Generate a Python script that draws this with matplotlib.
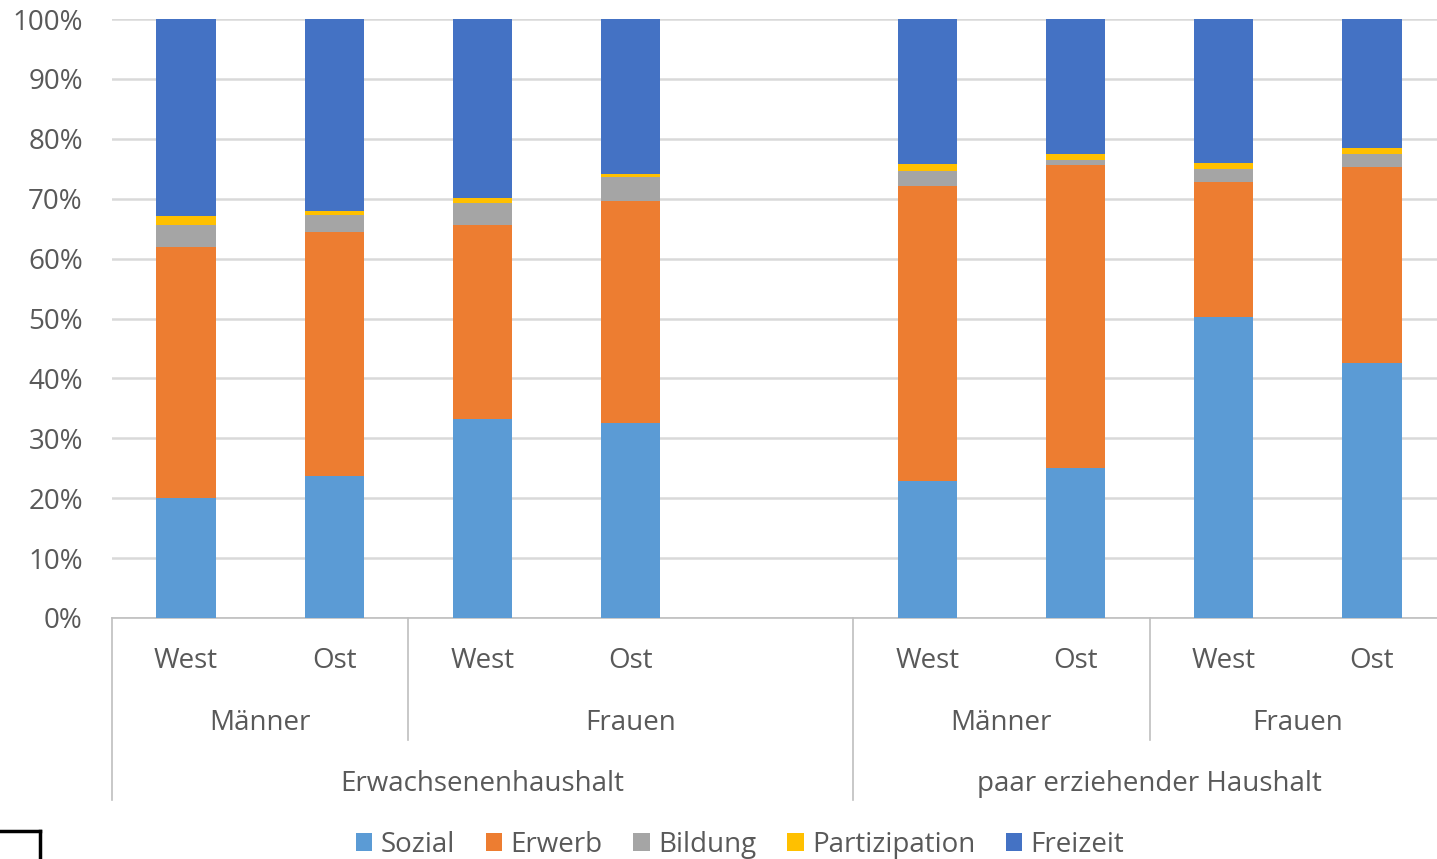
import numpy as np
import matplotlib.pyplot as plt
from matplotlib.lines import Line2D

# category slots (slot 4 is the empty gap between the two household groups)
positions = [0, 1, 2, 3, 5, 6, 7, 8]
region_labels = ['West', 'Ost', 'West', 'Ost', 'West', 'Ost', 'West', 'Ost']
gender_labels = ['Männer', 'Frauen', 'Männer', 'Frauen']
household_labels = ['Erwachsenenhaushalt', 'paar erziehender Haushalt']

series_names = ['Sozial', 'Erwerb', 'Bildung', 'Partizipation', 'Freizeit']
sozial = [20.0, 23.7, 33.2, 32.6, 22.9, 25.0, 50.2, 42.6]
erwerb = [42.0, 40.8, 32.4, 37.0, 49.3, 50.6, 22.6, 32.7]
bildung = [3.6, 2.8, 3.6, 4.0, 2.5, 0.8, 2.1, 2.2]
partizipation = [1.5, 0.6, 1.0, 0.5, 1.1, 1.1, 1.1, 0.9]
freizeit = [32.9, 32.1, 29.8, 25.9, 24.2, 22.5, 24.0, 21.6]

colors = ['#5B9BD5', '#ED7D31', '#A5A5A5', '#FFC000', '#4472C4']
text_col = '#595959'
line_col = '#BFBFBF'
fs = 20

plt.rcParams['font.family'] = ['Open Sans', 'DejaVu Sans']

W, H = 1437, 859
fig = plt.figure(figsize=(W / 100, H / 100), dpi=100)
x0, x1, y0, y1 = 112, 1446, 19, 618
ax = fig.add_axes([x0 / W, 1 - y1 / H, (x1 - x0) / W, (y1 - y0) / H])

data = [sozial, erwerb, bildung, partizipation, freizeit]
bottom = np.zeros(len(positions))
for name, vals, c in zip(series_names, data, colors):
    vals = np.array(vals)
    ax.bar(positions, vals, 0.4, bottom=bottom, color=c, label=name, zorder=3)
    bottom += vals

ax.set_xlim(-0.5, 8.5)
ax.set_ylim(0, 100)
ax.set_yticks(np.arange(0, 101, 10))
ax.set_yticklabels([f'{v}%' for v in range(0, 101, 10)])
ax.yaxis.grid(True, color='#D9D9D9', linewidth=1.8, zorder=0)
ax.tick_params(axis='y', length=0, labelsize=fs, labelcolor=text_col, pad=21)
ax.tick_params(axis='x', length=0, labelbottom=False)
for s in ['top', 'right', 'left']:
    ax.spines[s].set_visible(False)
ax.spines['bottom'].set_color(line_col)
ax.spines['bottom'].set_linewidth(1.2)

# multi-level category axis
trans = ax.get_xaxis_transform()
px = 1.0 / (y1 - y0)
row1 = -(661 - y1) * px
row2 = -(723 - y1) * px
row3 = -(784 - y1) * px
mid_low = -(740 - y1) * px
full_low = -(800 - y1) * px

for p, lab in zip(positions, region_labels):
    ax.text(p, row1, lab, transform=trans, ha='center', va='center',
            fontsize=fs, color=text_col)

gender_spans = [(-0.5, 1.5), (1.5, 4.5), (4.5, 6.5), (6.5, 8.5)]
for (a, b), lab in zip(gender_spans, gender_labels):
    ax.text((a + b) / 2, row2, lab, transform=trans, ha='center', va='center',
            fontsize=fs, color=text_col)

house_spans = [(-0.5, 4.5), (4.5, 8.5)]
for (a, b), lab in zip(house_spans, household_labels):
    ax.text((a + b) / 2, row3, lab, transform=trans, ha='center', va='center',
            fontsize=fs, color=text_col)

for xv, low in [(-0.5, full_low), (1.5, mid_low), (4.5, full_low), (6.5, mid_low)]:
    ax.add_line(Line2D([xv, xv], [0, low], transform=trans, color=line_col,
                       linewidth=1.2, clip_on=False))

leg = fig.legend(loc='center', bbox_to_anchor=(740 / W, 1 - 845 / H), ncol=5,
                 frameon=False, fontsize=fs, handlelength=0.6, handleheight=0.6,
                 handletextpad=0.3, columnspacing=1.1)
for t in leg.get_texts():
    t.set_color(text_col)

# corner mark in the lower left
fig.add_artist(Line2D([0, 40 / W], [1 - 831 / H, 1 - 831 / H], color='black', linewidth=2.5))
fig.add_artist(Line2D([40 / W, 40 / W], [1 - 831 / H, 0], color='black', linewidth=2.5))

fig.savefig('out.png', dpi=100)
